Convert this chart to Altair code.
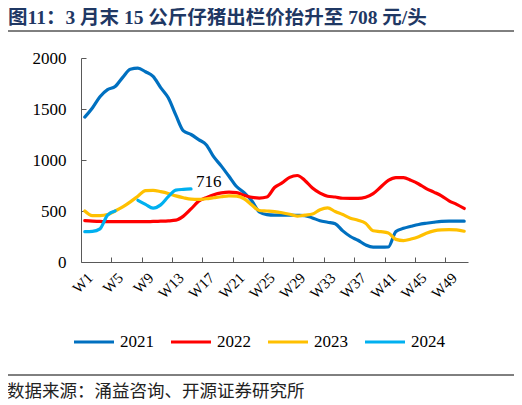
import altair as alt
import pandas as pd

TITLE = "图11：3 月末 15 公斤仔猪出栏价抬升至 708 元/头"
SOURCE = "数据来源：涌益咨询、开源证券研究所"

weeks = list(range(1, 52))
label_weeks = [1, 5, 9, 13, 17, 21, 25, 29, 33, 37, 41, 45, 49]
tick_bounds = [4.5, 8.5, 12.5, 16.5, 20.5, 24.5, 28.5, 32.5, 36.5, 40.5, 44.5, 48.5]
y_ticks = [0, 500, 1000, 1500, 2000]

years = ["2021", "2022", "2023", "2024"]
colors = ["#0070C0", "#FF0000", "#FFC000", "#00B0F0"]

price_2021 = [1420, 1510, 1620, 1690, 1720, 1810, 1890, 1900, 1865, 1820,
              1710, 1610, 1440, 1285, 1250, 1200, 1150, 1030, 940, 840,
              740, 680, 600, 490, 465, 460, 460, 460, 458, 455,
              432, 405, 390, 375, 305, 250, 213, 168, 145, 145,
              147, 300, 330, 350, 368, 380, 390, 398, 400, 400, 400]
price_2022 = [405, 400, 398, 395, 395, 395, 395, 395, 395, 398,
              400, 403, 410, 450, 520, 595, 630, 660, 678, 685,
              680, 655, 635, 627, 637, 730, 775, 830, 848, 800,
              725, 675, 645, 637, 625, 624, 624, 635, 670, 735,
              800, 828, 828, 800, 765, 720, 685, 648, 600, 565, 525]
price_2023 = [500, 455, 455, 465, 500, 540, 590, 645, 700, 702,
              690, 672, 648, 630, 616, 613, 620, 630, 640, 648,
              645, 620, 560, 505, 500, 494, 483, 468, 450, 460,
              470, 513, 530, 495, 465, 430, 410, 380, 307, 298,
              285, 222, 210, 225, 248, 282, 305, 315, 317, 315, 302]
price_2024 = [297, 300, 325, 460, 500, None, None, 605, 565, 528,
              560, 640, 705, 712, 716]

series = {"2021": price_2021, "2022": price_2022,
          "2023": price_2023, "2024": price_2024}

rows = []
for yr, vals in series.items():
    seg = 0
    for wk, v in zip(weeks, vals):
        if v is None:
            seg += 1
            continue
        rows.append({"week": wk, "price": v, "year": yr, "seg": f"{yr}-{seg}"})
df = pd.DataFrame(rows)

last_2024 = df[df["year"] == "2024"].tail(1)
one_row = pd.DataFrame({"k": [0]})

SERIF = "Liberation Serif, Noto Sans CJK SC"
AXIS = "#595959"
W, H = 387, 204
X_DOMAIN = [0.5, 51.5]
Y_DOMAIN = [0, 2000]

x_scale = alt.Scale(domain=X_DOMAIN, nice=False, zero=False)
y_scale = alt.Scale(domain=Y_DOMAIN, nice=False, zero=True)


def px_to_week(px):
    return X_DOMAIN[0] + px * (X_DOMAIN[1] - X_DOMAIN[0]) / W


def px_to_price(py):
    return Y_DOMAIN[1] * (H - py) / H


lines = alt.Chart(df).mark_line(
    strokeWidth=3.2, interpolate="monotone", strokeCap="round"
).encode(
    x=alt.X("week:Q", scale=x_scale, title=None,
            axis=alt.Axis(orient="bottom", values=label_weeks,
                          labelExpr="'W' + datum.value", labelOverlap=False,
                          labelAngle=-45, labelAlign="right", labelBaseline="top",
                          ticks=False, tickSize=0, grid=False, domainColor=AXIS,
                          labelFont=SERIF, labelFontSize=15, labelColor="black",
                          labelPadding=8)),
    y=alt.Y("price:Q", scale=y_scale, title=None,
            axis=alt.Axis(orient="left", values=y_ticks, format="d",
                          ticks=False, tickSize=0, grid=False,
                          domainColor=AXIS, labelFont=SERIF, labelFontSize=17,
                          labelColor="black", labelPadding=15)),
    color=alt.Color("year:N", scale=alt.Scale(domain=years, range=colors),
                    legend=alt.Legend(orient="none", legendX=-9, legendY=262,
                                      direction="horizontal", title=None,
                                      symbolType="stroke", symbolSize=1600,
                                      symbolStrokeWidth=3.2, labelFont=SERIF,
                                      labelFontSize=17, labelColor="black",
                                      labelOffset=4, columnPadding=10, columns=4)),
    detail="seg:N",
)

# inward tick marks: a second, label-less axis pulled into the plot
inner_ticks = alt.Chart(df).mark_point(opacity=0).encode(
    x=alt.X("week:Q", scale=x_scale, title=None,
            axis=alt.Axis(orient="bottom", offset=-5, values=tick_bounds,
                          domain=False, labels=False, tickSize=5,
                          tickColor=AXIS, grid=False)),
    y=alt.Y("price:Q", scale=y_scale, title=None,
            axis=alt.Axis(orient="left", offset=-5, values=y_ticks,
                          domain=False, labels=False, tickSize=5,
                          tickColor=AXIS, grid=False)),
)

last_label = alt.Chart(last_2024).mark_text(
    align="left", baseline="middle", dx=5, dy=-7,
    font=SERIF, fontSize=17, color="black"
).encode(x=alt.X("week:Q", scale=x_scale, axis=None),
         y=alt.Y("price:Q", scale=y_scale, axis=None),
         text="price:Q")

# page separators under the title and above the source line, drawn as
# two-point lines (pixel spots converted to scale units, outside the domain)
sep = pd.DataFrame({
    "sx": [px_to_week(-75), px_to_week(435)] * 2,
    "sy": [px_to_price(-27)] * 2 + [px_to_price(317)] * 2,
    "which": ["top", "top", "bottom", "bottom"],
})
separators = alt.Chart(sep).mark_line(
    color="black", strokeWidth=1, interpolate="linear"
).encode(
    x=alt.X("sx:Q", scale=x_scale, axis=None),
    y=alt.Y("sy:Q", scale=y_scale, axis=None),
    detail="which:N",
)

source_text = alt.Chart(one_row).mark_text(
    align="left", baseline="middle", font=SERIF, fontSize=17.5, color="#222222"
).encode(x=alt.value(-74), y=alt.value(334), text=alt.value(SOURCE))

chart = alt.layer(
    lines, inner_ticks, last_label, separators, source_text
).resolve_axis(
    x="independent", y="independent"
).properties(
    width=W,
    height=H,
    padding={"left": 73, "top": 50, "right": 46, "bottom": 141},
    autosize=alt.AutoSizeParams(type="none"),
    title=alt.TitleParams(text=TITLE, anchor="start", frame="group", dx=-73,
                          font=SERIF, fontSize=19.5, fontWeight="bold",
                          color="#1F3864", offset=1),
).configure_view(stroke=None)

chart.save("out.html", embed_options={"renderer": "svg", "actions": False})
